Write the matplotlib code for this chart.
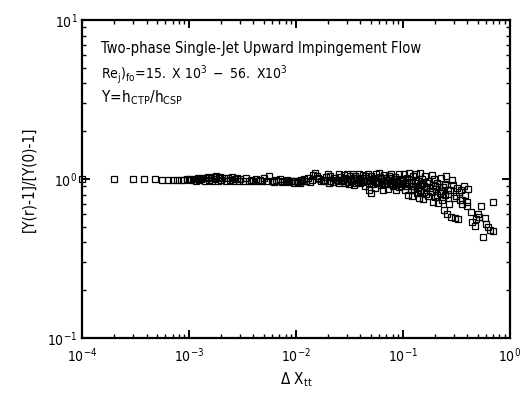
import matplotlib
matplotlib.use('Agg')
import numpy as np
import matplotlib.pyplot as plt

plt.rcParams['font.family'] = ['Liberation Sans Narrow', 'DejaVu Sans']
plt.rcParams['font.stretch'] = 'condensed'
plt.rcParams['mathtext.fontset'] = 'custom'
plt.rcParams['mathtext.rm'] = 'Liberation Sans Narrow'
plt.rcParams['mathtext.it'] = 'Liberation Sans Narrow'

# low Delta X_tt: ratio stays at 1
xa = [1.0e-4, 2.0e-4, 3.0e-4, 3.8e-4, 4.8e-4, 5.6e-4, 6.3e-4, 7.0e-4, 7.7e-4, 8.4e-4, 9.0e-4, 9.5e-4]
ya = [1.0, 1.0, 1.0, 1.0, 1.0, 0.99, 0.99, 0.99, 0.99, 0.99, 0.99, 1.0]

xb = [0.00100, 0.00105, 0.00110, 0.00115, 0.00120, 0.00125, 0.00130, 0.00135, 0.00140, 0.00145,
      0.00150, 0.00155, 0.00160, 0.00165, 0.00170, 0.00175, 0.00180, 0.00185, 0.00190, 0.00195,
      0.00200, 0.00210, 0.00220, 0.00230, 0.00240, 0.00250, 0.00260, 0.00270, 0.00280, 0.00290,
      0.00300, 0.00320, 0.00340, 0.00360, 0.00380, 0.00400, 0.00420, 0.00440, 0.00460, 0.00480,
      0.00500, 0.00530, 0.00560, 0.00590, 0.00620, 0.00650, 0.00680, 0.00710, 0.00740, 0.00770,
      0.00800, 0.00830, 0.00860, 0.00890, 0.00920, 0.00950, 0.00980]
yb = [1.00, 0.99, 1.00, 0.98, 1.01, 0.99, 1.00, 1.02, 0.98, 1.01,
      1.03, 0.99, 1.02, 0.98, 1.03, 1.00, 1.04, 0.98, 1.02, 1.03,
      0.99, 1.02, 0.98, 1.01, 0.99, 1.03, 0.98, 1.00, 1.02, 0.97,
      1.00, 0.98, 1.01, 0.97, 0.99, 0.98, 1.00, 0.97, 0.99, 0.98,
      1.01, 0.97, 1.04, 0.98, 0.96, 0.99, 0.97, 1.00, 0.96, 0.98,
      0.97, 0.99, 0.96, 0.98, 0.97, 0.95, 0.98]

xc = [0.0102, 0.0105, 0.011, 0.0112, 0.0115, 0.012, 0.0125, 0.013, 0.014, 0.0145,
      0.015, 0.0156, 0.016, 0.017, 0.018, 0.019, 0.020, 0.021, 0.021, 0.022,
      0.023, 0.024, 0.025, 0.025, 0.026, 0.027, 0.028, 0.029, 0.030, 0.030,
      0.031, 0.032, 0.033, 0.034, 0.035, 0.035, 0.036, 0.037, 0.038, 0.039,
      0.040, 0.040, 0.042, 0.043, 0.044, 0.045, 0.046, 0.047, 0.048, 0.049,
      0.050, 0.050, 0.052, 0.054, 0.055, 0.056, 0.058, 0.060, 0.062, 0.063,
      0.065, 0.067, 0.068, 0.070, 0.072, 0.074, 0.075, 0.078, 0.080, 0.082,
      0.085, 0.087, 0.090, 0.092, 0.095, 0.098]
yc = [0.97, 0.96, 0.95, 0.99, 0.97, 1.00, 0.98, 1.02, 0.99, 1.06,
      1.10, 1.04, 1.01, 0.97, 0.99, 1.03, 1.08, 0.98, 1.05, 0.96,
      1.02, 0.99, 1.07, 0.94, 1.03, 0.98, 1.06, 0.95, 1.08, 1.00,
      0.93, 1.04, 0.97, 1.07, 0.99, 0.92, 1.05, 1.02, 0.96, 1.08,
      0.94, 1.01, 1.06, 0.98, 0.91, 1.04, 0.97, 1.08, 0.86, 0.99,
      0.82, 1.05, 0.93, 1.02, 0.88, 1.07, 0.96, 1.10, 0.92, 1.01,
      0.85, 1.06, 0.95, 0.99, 0.87, 1.04, 0.93, 1.08, 0.90, 0.97,
      1.03, 0.86, 0.95, 1.07, 0.91, 1.00]

xc2 = [0.0108, 0.0118, 0.0135, 0.0165, 0.0185, 0.0205, 0.0225, 0.0245, 0.0265, 0.0285,
       0.0305, 0.0325, 0.0345, 0.0365, 0.0385, 0.0405, 0.0425, 0.0445, 0.0465, 0.0485,
       0.0510, 0.0530, 0.0570, 0.0590, 0.0610, 0.0640, 0.0660, 0.0690, 0.0710, 0.0730,
       0.0760, 0.0790, 0.0810, 0.0840, 0.0860, 0.0880, 0.0910, 0.0940, 0.0970]
yc2 = [0.98, 0.97, 0.96, 1.00, 0.97, 0.95, 1.01, 0.97, 0.99, 1.02,
       0.96, 0.99, 1.01, 0.95, 1.00, 0.98, 0.96, 1.02, 0.99, 0.94,
       0.97, 1.00, 0.95, 0.98, 1.03, 0.94, 0.97, 1.01, 0.93, 0.99,
       1.02, 0.95, 0.98, 0.92, 1.00, 0.96, 0.89, 0.98, 0.94]

xd = [0.100, 0.102, 0.105, 0.108, 0.110, 0.112, 0.115, 0.118, 0.120, 0.122,
      0.125, 0.128, 0.130, 0.133, 0.135, 0.138, 0.140, 0.143, 0.145, 0.148,
      0.150, 0.153, 0.155, 0.158, 0.160, 0.165, 0.170, 0.175, 0.180, 0.185,
      0.190, 0.190, 0.195, 0.200, 0.205, 0.210, 0.215, 0.220, 0.225, 0.230,
      0.235, 0.240, 0.245, 0.250, 0.255, 0.260, 0.265, 0.270, 0.280, 0.290,
      0.300, 0.310, 0.320, 0.330, 0.340, 0.350, 0.360, 0.380, 0.400, 0.410,
      0.430, 0.440, 0.470, 0.480, 0.500, 0.520, 0.540, 0.560, 0.580, 0.600,
      0.630, 0.650, 0.690, 0.690]
yd = [0.93, 1.08, 0.85, 1.02, 0.96, 0.80, 1.10, 0.90, 0.99, 0.78,
      1.04, 0.87, 0.95, 1.07, 0.82, 0.98, 0.76, 0.92, 1.10, 0.86,
      1.00, 0.75, 0.94, 0.83, 1.05, 0.89, 0.78, 0.97, 0.84, 1.06,
      0.92, 0.72, 1.00, 0.77, 0.87, 0.95, 0.71, 0.82, 1.01, 0.74,
      0.89, 0.64, 0.93, 0.79, 1.05, 0.60, 0.86, 0.70, 0.58, 0.99,
      0.76, 0.57, 0.88, 0.56, 0.74, 0.86, 0.70, 0.80, 0.68, 0.87,
      0.62, 0.54, 0.51, 0.56, 0.60, 0.58, 0.68, 0.43, 0.57, 0.52,
      0.50, 0.48, 0.72, 0.47]

xd2 = [0.101, 0.107, 0.113, 0.119, 0.124, 0.131, 0.137, 0.144, 0.151, 0.157,
       0.163, 0.168, 0.178, 0.188, 0.198, 0.208, 0.218, 0.228, 0.238, 0.248,
       0.262, 0.275, 0.295, 0.315, 0.335, 0.355, 0.375, 0.395]
yd2 = [0.97, 0.90, 0.94, 0.86, 0.91, 0.97, 0.88, 0.84, 0.93, 0.90,
       0.81, 0.95, 0.88, 0.83, 0.91, 0.79, 0.89, 0.84, 0.77, 0.92,
       0.81, 0.86, 0.92, 0.78, 0.83, 0.74, 0.90, 0.72]

x_all = np.concatenate([xa, xb, xc, xc2, xd, xd2])
y_all = np.concatenate([ya, yb, yc, yc2, yd, yd2])

fig = plt.figure(figsize=(5.3, 3.95), dpi=100)
ax = fig.add_axes([0.155, 0.144, 0.807, 0.805])

ax.plot(x_all, y_all, linestyle='none', marker='s', markersize=4,
        markerfacecolor='none', markeredgecolor='black', markeredgewidth=0.9,
        clip_on=False)

ax.set_xscale('log')
ax.set_yscale('log')
ax.set_xlim(1e-4, 1)
ax.set_ylim(1e-1, 10)

for s in ax.spines.values():
    s.set_linewidth(1.6)
ax.tick_params(which='both', direction='in', top=True, right=True, labelsize=10)
ax.tick_params(axis='x', pad=6)
ax.tick_params(which='major', length=6, width=1.4)
ax.tick_params(which='minor', length=3, width=1.0)

ax.set_xlabel(r'$\mathregular{\Delta\ X_{tt}}$', fontsize=11, labelpad=4)
ax.set_ylabel('[Y(r)-1]/[Y(0)-1]', fontsize=11, labelpad=8)

ax.text(0.045, 0.91, 'Two-phase Single-Jet Upward Impingement Flow',
        transform=ax.transAxes, fontsize=10.5, va='center')
ax.text(0.045, 0.83, r'$\mathregular{Re_j)_{fo}\!=\!15.\ X\ 10^3\ -\ 56.\ X10^3}$',
        transform=ax.transAxes, fontsize=10, va='center')
ax.text(0.045, 0.755, r'$\mathregular{Y\!=\!h_{CTP}/h_{CSP}}$',
        transform=ax.transAxes, fontsize=11, va='center')

fig.savefig('out.png', dpi=100)
